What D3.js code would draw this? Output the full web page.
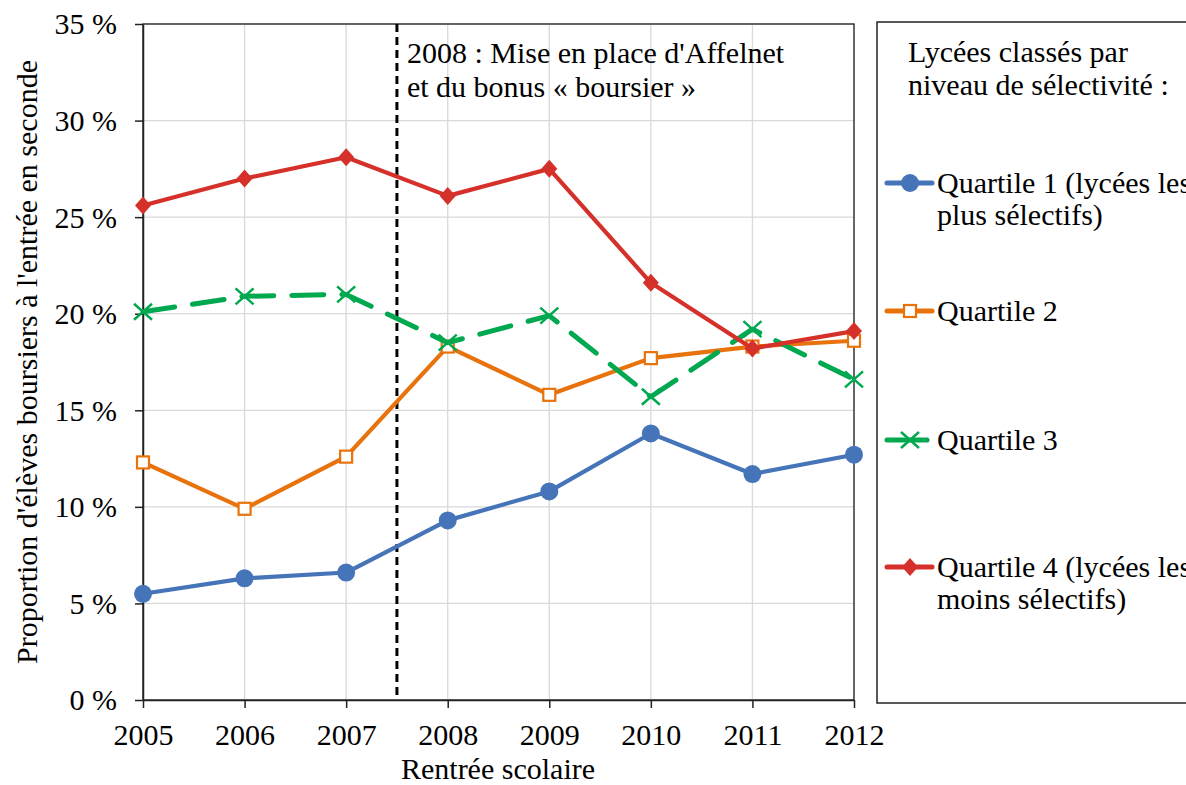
<!DOCTYPE html>
<html>
<head>
<meta charset="utf-8">
<script src="https://cdn.jsdelivr.net/npm/d3@7"></script>
<style>
  body { margin: 0; background: #fff; }
</style>
</head>
<body>
<div id="chart"></div>
<script>
// data
const years = [2005, 2006, 2007, 2008, 2009, 2010, 2011, 2012];
const quartile1 = [5.5, 6.3, 6.6, 9.3, 10.8, 13.8, 11.7, 12.7];
const quartile2 = [12.3, 9.9, 12.6, 18.3, 15.8, 17.7, 18.3, 18.6];
const quartile3 = [20.1, 20.9, 21.0, 18.5, 19.9, 15.7, 19.2, 16.6];
const quartile4 = [25.6, 27.0, 28.1, 26.1, 27.5, 21.6, 18.2, 19.1];
const seriesNames = [
  ["Quartile 1 (lycées les", "plus sélectifs)"],
  ["Quartile 2"],
  ["Quartile 3"],
  ["Quartile 4 (lycées les", "moins sélectifs)"]
];
const yTicks = [0, 5, 10, 15, 20, 25, 30, 35];
const reformYear = 2007.5;

const FONT = '"Liberation Serif", "Times New Roman", serif';
const FS = 30;

const width = 1186, height = 785;
const margin = { top: 24, right: 332, bottom: 85, left: 143 };
const w = width - margin.left - margin.right;
const h = height - margin.top - margin.bottom;

const svg = d3.select("#chart").append("svg")
  .attr("width", width)
  .attr("height", height)
  .attr("font-family", FONT);

const x = d3.scaleLinear().domain([2005, 2012]).range([0, w]);
const y = d3.scaleLinear().domain([0, 35]).range([h, 0]);

const g = svg.append("g")
  .attr("transform", "translate(" + [margin.left, margin.top] + ")");

// grid
g.append("g").selectAll("line")
  .data(yTicks).enter().append("line")
  .attr("x1", 0).attr("x2", w)
  .attr("y1", d => y(d)).attr("y2", d => y(d))
  .attr("stroke", "#d9d9d9").attr("stroke-width", 1.3);
g.append("g").selectAll("line")
  .data(years).enter().append("line")
  .attr("x1", d => x(d)).attr("x2", d => x(d))
  .attr("y1", 0).attr("y2", h)
  .attr("stroke", "#d9d9d9").attr("stroke-width", 1.3);

// plot frame
g.append("rect")
  .attr("width", w).attr("height", h)
  .attr("fill", "none").attr("stroke", "#222").attr("stroke-width", 1.3);

// axes
const xAxis = g.append("g")
  .attr("transform", "translate(0," + h + ")")
  .call(d3.axisBottom(x).tickValues(years).tickFormat(d3.format("d")).tickSize(8).tickSizeOuter(0));
const yAxis = g.append("g")
  .call(d3.axisLeft(y).tickValues(yTicks).tickFormat(d => d + " %").tickSize(8).tickSizeOuter(0));

[xAxis, yAxis].forEach(a => {
  a.attr("font-family", FONT).attr("font-size", FS);
  a.select(".domain").attr("stroke", "#222").attr("stroke-width", 1.5);
  a.selectAll(".tick line").attr("stroke", "#222").attr("stroke-width", 1.5);
  a.selectAll("text").attr("fill", "#000");
});
xAxis.selectAll("text").attr("y", 45).attr("dy", 0);
yAxis.selectAll("text").attr("x", -26).attr("dy", "0.33em");

// reform line
g.append("line")
  .attr("x1", x(reformYear)).attr("x2", x(reformYear))
  .attr("y1", 0).attr("y2", h)
  .attr("stroke", "#000").attr("stroke-width", 3)
  .attr("stroke-dasharray", "8,5");

g.append("text")
  .attr("font-size", FS)
  .selectAll("tspan")
  .data(["2008 : Mise en place d'Affelnet", "et du bonus « boursier »"])
  .enter().append("tspan")
  .attr("x", x(reformYear) + 10)
  .attr("y", (d, i) => 39 + i * 34)
  .text(d => d);

// series
const series = [
  { values: quartile1, color: "#4674b9", marker: "circle", dash: null },
  { values: quartile2, color: "#e8720c", marker: "square", dash: null },
  { values: quartile3, color: "#00a84f", marker: "cross", dash: "32,18" },
  { values: quartile4, color: "#d6302a", marker: "diamond", dash: null }
];

const line = d3.line()
  .x((d, i) => x(years[i]))
  .y(d => y(d));

function drawMarker(sel, type, color) {
  if (type === "circle") {
    sel.append("circle").attr("r", 9).attr("fill", color);
  } else if (type === "square") {
    sel.append("rect").attr("x", -6).attr("y", -6).attr("width", 12).attr("height", 12)
      .attr("fill", "#fff").attr("stroke", color).attr("stroke-width", 2.2);
  } else if (type === "diamond") {
    sel.append("path").attr("d", "M0,-9L8,0L0,9L-8,0Z").attr("fill", color);
  } else {
    sel.append("path").attr("d", "M-9,-8L9,8M-9,8L9,-8")
      .attr("stroke", color).attr("stroke-width", 2.5).attr("fill", "none");
  }
}

series.forEach(s => {
  g.append("path")
    .attr("d", line(s.values))
    .attr("fill", "none")
    .attr("stroke", s.color)
    .attr("stroke-width", s.dash ? 5 : 4.2)
    .attr("stroke-linecap", s.dash ? "round" : "butt")
    .attr("stroke-linejoin", "round")
    .attr("stroke-dasharray", s.dash);
  g.append("g").selectAll("g")
    .data(s.values).enter().append("g")
    .attr("transform", (d, i) => "translate(" + [x(years[i]), y(d)] + ")")
    .each(function () { drawMarker(d3.select(this), s.marker, s.color); });
});

// axis titles
svg.append("text")
  .attr("transform", "translate(37," + (margin.top + h / 2) + ") rotate(-90)")
  .attr("text-anchor", "middle")
  .attr("font-size", FS)
  .text("Proportion d'élèves boursiers à l'entrée en seconde");

svg.append("text")
  .attr("x", 498).attr("y", 779)
  .attr("text-anchor", "middle")
  .attr("font-size", FS)
  .text("Rentrée scolaire");

// legend
const lg = svg.append("g").attr("transform", "translate(877,22)");
lg.append("rect")
  .attr("width", 330).attr("height", 681)
  .attr("fill", "#fff").attr("stroke", "#222").attr("stroke-width", 1.5);

lg.append("text")
  .attr("font-size", FS)
  .selectAll("tspan")
  .data(["Lycées classés par", "niveau de sélectivité :"])
  .enter().append("tspan")
  .attr("x", 31).attr("y", (d, i) => 40 + i * 33)
  .text(d => d);

const legendY = [161, 289, 418, 545];
series.forEach((s, i) => {
  const item = lg.append("g").attr("transform", "translate(0," + legendY[i] + ")");
  item.append("line")
    .attr("x1", 10).attr("x2", s.dash ? 50 : 55)
    .attr("stroke", s.color).attr("stroke-width", 5)
    .attr("stroke-linecap", "round");
  const m = item.append("g").attr("transform", "translate(33,0)");
  drawMarker(m, s.marker, s.color);
  item.append("text")
    .attr("font-size", FS)
    .selectAll("tspan")
    .data(seriesNames[i])
    .enter().append("tspan")
    .attr("x", 60).attr("y", (d, j) => 10 + j * 32)
    .text(d => d);
});
</script>
</body>
</html>
